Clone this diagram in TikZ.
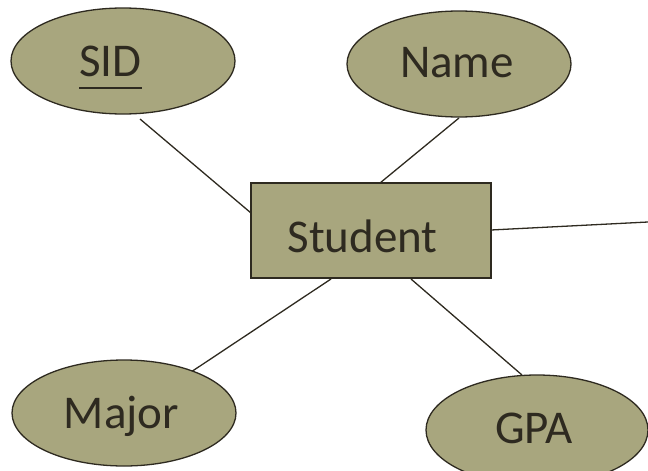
\documentclass[tikz,border=0pt]{standalone}
\usepackage{fontspec}
\setmainfont{Carlito}
\usetikzlibrary{shapes.geometric}
\definecolor{olivefill}{HTML}{A8A67E}
\definecolor{inkdark}{HTML}{2E2A20}
\begin{document}
\begin{tikzpicture}[x=1pt,y=-1pt,
  attr/.style={ellipse, draw=inkdark, line width=1.3pt, fill=olivefill,
    minimum width=224pt, minimum height=106pt, inner sep=0pt},
  entity/.style={rectangle, draw=inkdark, line width=2pt, fill=olivefill,
    minimum width=240pt, minimum height=95pt, inner sep=0pt},
  caption/.style={anchor=base, inner sep=0pt,
    font=\fontsize{47}{47}\selectfont, text=inkdark},
  link/.style={draw=inkdark, line width=1.3pt}]
\useasboundingbox (0,0) rectangle (648,471);
\clip (0,0) rectangle (648,471);
% connectors first so the shapes cover their ends
\coordinate (sidend) at (140,119);
\coordinate (nameend) at (459,118);
\coordinate (majorend) at (188,374);
\coordinate (gpaend) at (522,375);
\coordinate (offpage) at (648,222);
\coordinate (stuw) at (251,213);
\coordinate (stun) at (380,183);
\coordinate (stusw) at (331,279);
\coordinate (stuse) at (411,279);
\coordinate (stue) at (491,230);
\draw[link] (sidend) -- (stuw);
\draw[link] (nameend) -- (stun);
\draw[link] (majorend) -- (stusw);
\draw[link] (gpaend) -- (stuse);
\draw[link] (stue) -- (offpage);
% attributes
\node[attr] (sid) at (123,61) {};
\node[attr] (name) at (459,64) {};
\node[attr] (major) at (124,413) {};
\node[attr, minimum width=222pt, minimum height=110pt] (gpa) at (537,430) {};
\node[caption] (sidtext) at (110.5,76) {SID};
\draw[inkdark, line width=2pt] (sidtext.south west |- 0,88) -- (sidtext.south east |- 0,88);
\node[caption] (nametext) at (457,77) {Name};
\node[caption] (majortext) at (121.5,428) {Major};
\node[caption] (gpatext) at (534,443) {GPA};
% entity
\node[entity] (student) at (371,230.5) {};
\node[caption] (studenttext) at (362.5,252) {Student};
\end{tikzpicture}
\end{document}
